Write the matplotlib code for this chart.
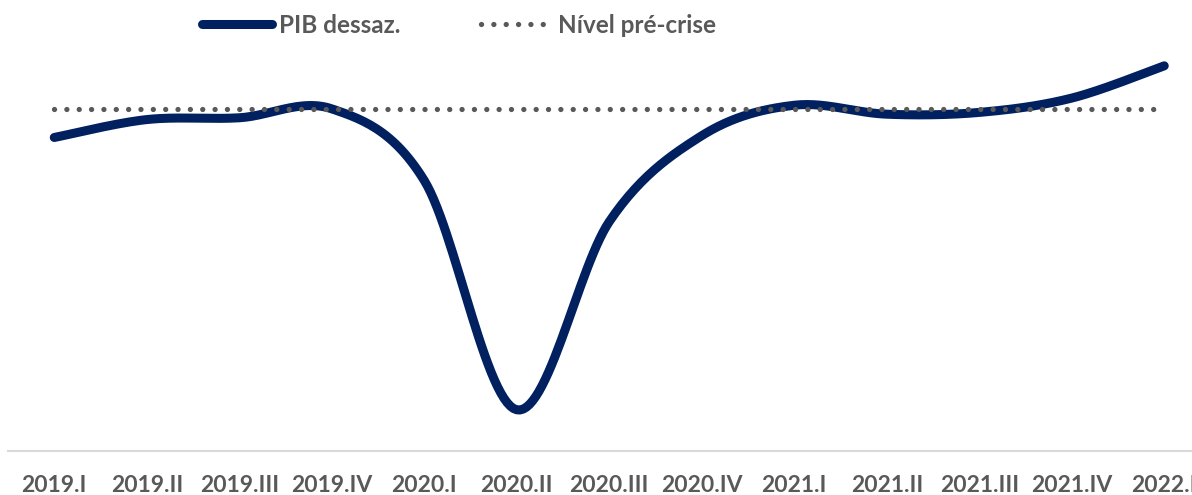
import numpy as np
import matplotlib
matplotlib.use("Agg")
import matplotlib.pyplot as plt

quarters = ["2019.I", "2019.II", "2019.III", "2019.IV", "2020.I", "2020.II", "2020.III",
            "2020.IV", "2021.I", "2021.II", "2021.III", "2021.IV", "2022.I"]
# PIB em cadeia, indice 2019.IV = 100
pib = [98.4, 99.4, 99.5, 100.0, 96.0, 83.2, 93.7, 98.5, 100.2, 99.7, 99.8, 100.6, 102.4]
pre_crise = 100.0

NAVY = "#002060"
GREY = "#595959"


def smooth(y, n=30):
	# curva suavizada tipo excel (bezier com tangentes catmull-rom)
	y = np.asarray(y, dtype=float)
	x = np.arange(len(y), dtype=float)
	pts = np.column_stack([x, y])
	out = []
	for i in range(len(pts) - 1):
		p0 = pts[max(i - 1, 0)]
		p1 = pts[i]
		p2 = pts[i + 1]
		p3 = pts[min(i + 2, len(pts) - 1)]
		c1 = p1 + (p2 - p0) / 6
		c2 = p2 - (p3 - p1) / 6
		t = np.linspace(0, 1, n)[:, None]
		seg = (1 - t) ** 3 * p1 + 3 * (1 - t) ** 2 * t * c1 + 3 * (1 - t) * t ** 2 * c2 + t ** 3 * p2
		out.append(seg if i == 0 else seg[1:])
	out = np.vstack(out)
	return out[:, 0], out[:, 1]


plt.rcParams['font.family'] = ['Lato', 'DejaVu Sans']

fig = plt.figure(figsize=(11.92, 4.95), dpi=100)
ax = fig.add_axes([8 / 1192, 44 / 495, 1202.5 / 1192, 421 / 495])

sx, sy = smooth(pib)
ax.plot(sx, sy, color=NAVY, lw=6.5, solid_capstyle='round', solid_joinstyle='round',
	label="PIB dessaz.", zorder=2)
ax.plot([0, len(quarters) - 1], [pre_crise, pre_crise], color=GREY, lw=3.8,
	linestyle=(0, (0.01, 2.33)), dash_capstyle='round', label="Nível pré-crise", zorder=3)

ax.set_xlim(-0.5, len(quarters) - 0.5)
ax.set_ylim(80.9, 104.4)

ax.set_xticks(range(len(quarters)))
ax.set_xticklabels(quarters, fontsize=16.5, fontweight='bold', color=GREY)
ax.tick_params(axis='x', length=0, pad=17)
ax.set_yticks([])

for s in ['top', 'right', 'left']:
	ax.spines[s].set_visible(False)
ax.spines['bottom'].set_color("#d9d9d9")
ax.spines['bottom'].set_linewidth(1.5)

leg = ax.legend(loc='upper left', bbox_to_anchor=(172 / 1202.5, 1.09), ncol=2, frameon=False,
	handlelength=2.9, handletextpad=0.28, columnspacing=3.3,
	prop={'size': 17.5, 'weight': 'bold'})
for t in leg.get_texts():
	t.set_color(GREY)

fig.savefig("out.png", dpi=100)
